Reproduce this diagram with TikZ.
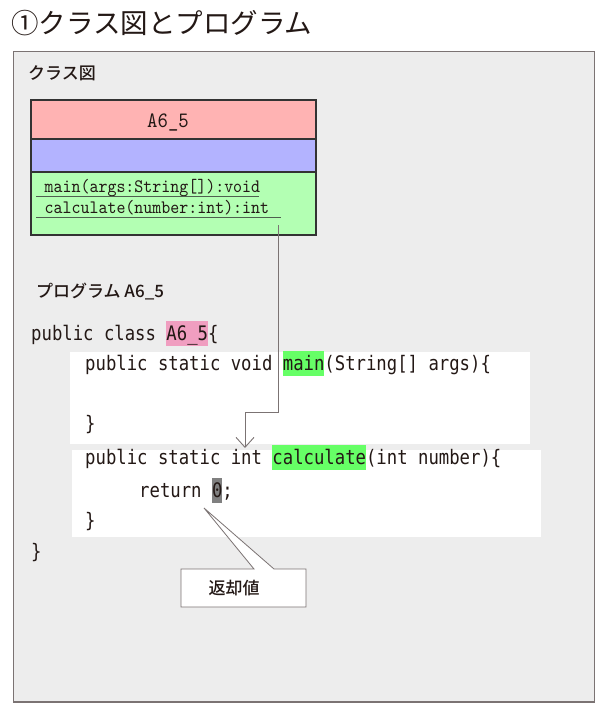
\documentclass[tikz,border=0pt]{standalone}
\usepackage{fontspec}
\usetikzlibrary{arrows.meta}
\newfontfamily\jp{Noto Sans CJK JP}
\newfontfamily\jpm{Noto Sans CJK JP}[UprightFont=* Medium]
\newfontfamily\codefont{DejaVu Sans Mono}[FakeStretch=0.864]
\newfontfamily\umlfont{lmmono10-regular}[Extension=.otf,FakeStretch=0.9]
\definecolor{panel}{HTML}{EDEDED}
\definecolor{panelborder}{HTML}{7B7373}
\definecolor{cred}{HTML}{FFB3B3}
\definecolor{cblue}{HTML}{B3B3FF}
\definecolor{cgreen}{HTML}{B3FFB3}
\definecolor{cborder}{HTML}{333333}
\definecolor{hlpink}{HTML}{F09EC0}
\definecolor{hlgreen}{HTML}{66FF66}
\definecolor{hlgray}{HTML}{808080}
\definecolor{txt}{HTML}{231815}
\definecolor{connc}{HTML}{7B7373}
\definecolor{uline}{HTML}{4F5F4F}
\newcommand\hlmark[2]{{\setlength{\fboxsep}{0pt}\colorbox{#1}{\rule[-5.5pt]{0pt}{25pt}#2}}}
\tikzset{
  panelbox/.style={fill=panel,draw=panelborder,line width=1.3pt},
  comp/.style={draw=cborder,line width=1.6pt,minimum width=285pt,inner sep=0pt,outer sep=0pt},
  lbl/.style={anchor=base west,inner sep=0pt,text=txt,font=\jpm\fontsize{17}{17}\selectfont},
  uml/.style={anchor=base west,inner sep=0pt,text=txt,font=\umlfont\fontsize{19}{19}\selectfont},
  codeline/.style={anchor=base west,inner sep=0pt,text=txt,font=\codefont\fontsize{20}{20}\selectfont},
  ul/.style={draw=uline,line width=0.8pt},
  connector/.style={draw=connc,line width=0.9pt,-{Straight Barb[length=10pt,width=18pt]}},
  callout/.style={fill=white,draw=connc,line width=0.8pt},
}
\begin{document}
\begin{tikzpicture}[x=1pt,y=-1pt]
\useasboundingbox (0,0) rectangle (610,703);
% panel
\draw[panelbox] (13.5,51.5) rectangle (594.5,702);
% title
\node[anchor=base west,inner sep=0pt,text=txt,font=\jp\fontsize{27.5}{27.5}\selectfont] (title) at (11,33.5) {①クラス図とプログラム};
\node[lbl] (cdlabel) at (28,79.5) {クラス図};
% class box
\node[comp,fill=cred,minimum height=39pt] (cname) at (173.5,119.5) {};
\node[comp,fill=cblue,minimum height=33pt] (cattr) at (173.5,155.5) {};
\node[comp,fill=cgreen,minimum height=63pt] (cops) at (173.5,203.5) {};
\node[anchor=base,inner sep=0pt,text=txt,font=\umlfont\fontsize{22}{22}\selectfont] (cnametext) at (168,128) {A6\_5};
\node[uml] (m1) at (44.5,193) {main(args:String[]):void};
\node[uml] (m2) at (44.5,213.5) {calculate(number:int):int};
\draw[ul] (36,196) -- (259,196);
\draw[ul] (36,217) -- (281,217);
% program label
\node[lbl] (proglabel) at (36,297.5) {プログラム A6\_5};
% white blocks
\fill[white] (70,352) rectangle (530,444);
\fill[white] (72,450) rectangle (541,537);
% code
\node[codeline] (l1) at (31,340) {public class \hlmark{hlpink}{A6\_5}\{};
\node[codeline] (l2) at (85,370) {public static void \hlmark{hlgreen}{main}(String[] args)\{};
\node[codeline] (l3) at (85,430) {\}};
\node[codeline] (l4) at (85,464) {public static int \hlmark{hlgreen}{calculate}(int number)\{};
\node[codeline] (l5) at (139,497) {return \hlmark{hlgray}{0};};
\node[codeline] (l6) at (85,527) {\}};
\node[codeline] (l7) at (31,558) {\}};
% connector
\coordinate (cstart) at (278,225);
\coordinate (ctip) at (245,448);
\draw[connector] (cstart) -- (278,412) -| (ctip);
% callout
\draw[callout] (181,569) -- (254,569) -- (204,508) -- (274,569) -- (306,569) -- (306,607) -- (181,607) -- cycle;
\node[anchor=center,inner sep=0pt,text=txt,font=\jpm\fontsize{17}{17}\selectfont] (ret) at (234,588) {返却値};
\end{tikzpicture}
\end{document}
